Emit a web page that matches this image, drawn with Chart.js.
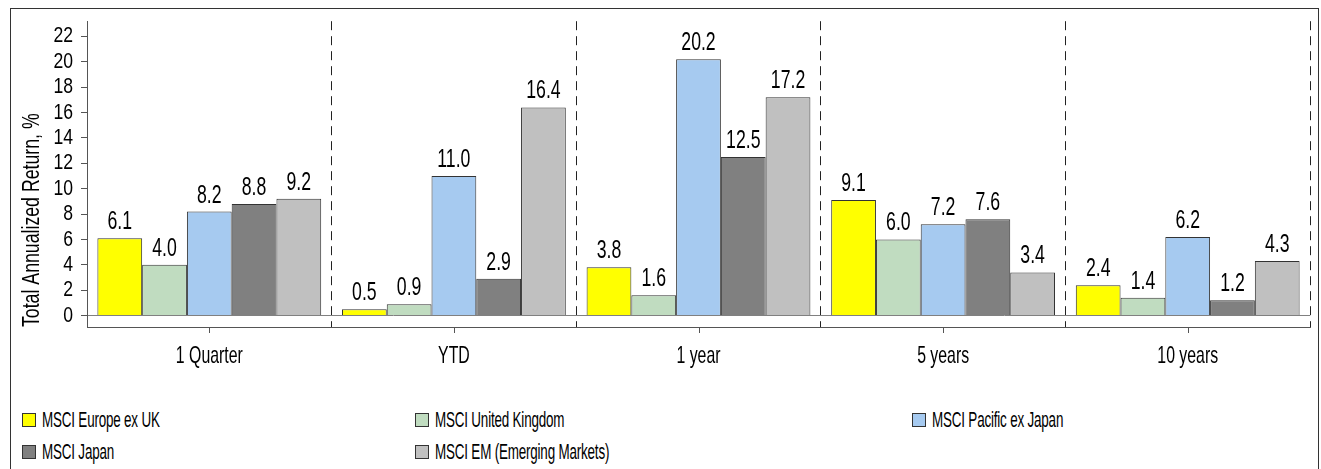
<!DOCTYPE html>
<html lang="en">
<head>
    <meta charset="UTF-8">
    <title>Total Annualized Return</title>
    <script src="https://cdn.jsdelivr.net/npm/chart.js@4.4.1/dist/chart.umd.min.js"></script>
    <style>
        body { margin: 0; background: #fff; width: 1321px; height: 469px; overflow: hidden; position: relative; }
        .frame { position: absolute; left: 10px; top: 8px; width: 1309px; height: 480px; border: 1px solid #333; box-sizing: border-box; }
        .chart-wrap { position: absolute; left: 0; top: 0; width: 1321px; height: 385px; }
        .legend { position: absolute; left: 0; top: 0; font-family: "Liberation Sans", Arial, sans-serif; font-size: 22px; color: #000; }
        .legend-item { position: absolute; display: flex; align-items: center; white-space: nowrap; }
        .legend-box { width: 12px; height: 12px; border: 1px solid #333; margin-right: 6px; flex: none; }
        .legend-item span { display: inline-block; transform: scaleX(0.61); transform-origin: left center; letter-spacing: -0.3px; }
    </style>
</head>
<body>
<div class="frame"></div>
<div class="chart-wrap"><canvas id="chart"></canvas></div>
<div class="legend" id="legend"></div>
<script>
    const categories = ["1 Quarter", "YTD", "1 year", "5 years", "10 years"]
    const seriesNames = ["MSCI Europe ex UK", "MSCI United Kingdom", "MSCI Pacific ex Japan", "MSCI Japan", "MSCI EM (Emerging Markets)"]
    const europeExUk = [6.1, 0.5, 3.8, 9.1, 2.4]
    const unitedKingdom = [4.0, 0.9, 1.6, 6.0, 1.4]
    const pacificExJapan = [8.2, 11.0, 20.2, 7.2, 6.2]
    const japan = [8.8, 2.9, 12.5, 7.6, 1.2]
    const emergingMarkets = [9.2, 16.4, 17.2, 3.4, 4.3]
    const yTicks = [0, 2, 4, 6, 8, 10, 12, 14, 16, 18, 20, 22]

    const seriesValues = [europeExUk, unitedKingdom, pacificExJapan, japan, emergingMarkets]
    const colors = ["#ffff00", "#c0dcc0", "#a6caf0", "#808080", "#c0c0c0"]
    const FONT = "'Liberation Sans', Arial, sans-serif"

    // the original uses a very narrow face; squeeze text horizontally, amount by font size
    const squeeze = { 26: 0.68, 24: 0.66, 22: 0.8, 23: 0.77 }
    const narrowText = {
        id: 'narrowText',
        beforeInit(chart) {
            const ctx = chart.ctx
            const fill = ctx.fillText.bind(ctx)
            ctx.fillText = function (text, x, y) {
                const m = /(\d+)px/.exec(ctx.font)
                const k = m && squeeze[m[1]] ? squeeze[m[1]] : 1
                ctx.save()
                ctx.translate(x, y)
                ctx.scale(k, 1)
                fill(text, 0, 0)
                ctx.restore()
            }
        }
    }

    // value labels above each bar
    const valueLabels = {
        id: 'valueLabels',
        afterDatasetsDraw(chart) {
            const ctx = chart.ctx
            ctx.save()
            ctx.font = `26px ${FONT}`
            ctx.fillStyle = '#000'
            ctx.textAlign = 'center'
            ctx.textBaseline = 'alphabetic'
            chart.data.datasets.forEach((ds, i) => {
                chart.getDatasetMeta(i).data.forEach((bar, j) => {
                    ctx.fillText(ds.data[j].toFixed(1), bar.x, bar.y - 9)
                })
            })
            ctx.restore()
        }
    }

    // small ticks under the x axis at the category centres
    const centerTicks = {
        id: 'centerTicks',
        afterDraw(chart) {
            const ctx = chart.ctx
            const x = chart.scales.x
            const bottom = chart.chartArea.bottom
            ctx.save()
            ctx.strokeStyle = '#555'
            ctx.lineWidth = 1
            categories.forEach((c, i) => {
                const px = Math.round(x.getPixelForValue(i)) + 0.5
                ctx.beginPath()
                ctx.moveTo(px, bottom)
                ctx.lineTo(px, bottom + 6)
                ctx.stroke()
            })
            ctx.restore()
        }
    }

    const chart = new Chart(document.getElementById('chart'), {
        type: 'bar',
        data: {
            labels: categories,
            datasets: seriesNames.map((name, i) => ({
                label: name,
                data: seriesValues[i],
                backgroundColor: colors[i],
                borderColor: '#333',
                borderWidth: 1,
                categoryPercentage: 0.915,
                barPercentage: 1
            }))
        },
        options: {
            responsive: true,
            maintainAspectRatio: false,
            animation: false,
            layout: { padding: { left: 19, top: 17, right: 11, bottom: 0 } },
            plugins: {
                legend: { display: false },
                tooltip: { enabled: false }
            },
            scales: {
                x: {
                    afterFit(scale) { scale.height = 58 },
                    grid: {
                        offset: true,
                        drawTicks: false,
                        color: '#222',
                        lineWidth: 1
                    },
                    border: { display: true, color: '#555', dash: [9, 6] },
                    ticks: {
                        color: '#000',
                        padding: 15,
                        font: { family: FONT, size: 24 }
                    }
                },
                y: {
                    min: -0.9,
                    max: 23.2,
                    afterFit(scale) { scale.width = 68 },
                    afterBuildTicks(scale) { scale.ticks = yTicks.map(v => ({ value: v })) },
                    grid: {
                        color: ctx => ctx.tick && ctx.tick.value === 0 ? '#808080' : 'transparent',
                        tickColor: '#555',
                        tickLength: 6,
                        drawOnChartArea: true
                    },
                    border: { display: true, color: '#555' },
                    ticks: {
                        color: '#000',
                        padding: 8,
                        autoSkip: false,
                        font: { family: FONT, size: 22 }
                    },
                    title: {
                        display: true,
                        text: 'Total Annualized Return, %',
                        align: 'start',
                        color: '#000',
                        padding: { top: 0, bottom: 0 },
                        font: { family: FONT, size: 23 }
                    }
                }
            }
        },
        plugins: [narrowText, valueLabels, centerTicks]
    })

    // legend, three columns over two rows
    const legendPos = [[22, 414], [415, 414], [912, 414], [22, 446], [415, 446]]
    const legend = document.getElementById('legend')
    seriesNames.forEach((name, i) => {
        legend.innerHTML += `<div class="legend-item" style="left:${legendPos[i][0]}px; top:${legendPos[i][1] - 7}px">
            <div class="legend-box" style="background:${colors[i]}"></div><span>${name}</span></div>`
    })
</script>
</body>
</html>
